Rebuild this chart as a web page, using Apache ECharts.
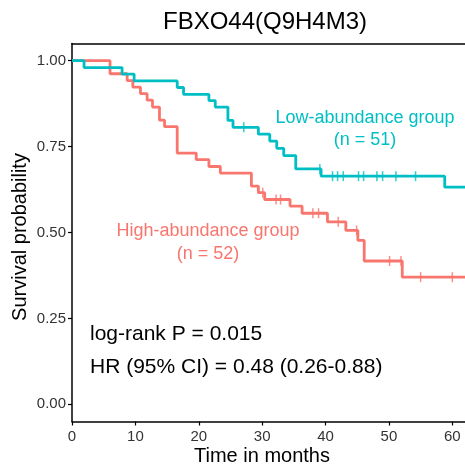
<!DOCTYPE html>
<html>
<head>
<meta charset="utf-8">
<script src="https://cdn.jsdelivr.net/npm/echarts@6/dist/echarts.min.js"></script>
<style>html,body{margin:0;padding:0;background:#fff;}#c{width:465px;height:468px;}</style>
</head>
<body>
<div id="c"></div>
<script>
const timeTicks = [0, 10, 20, 30, 40, 50, 60];
const probTicks = [0, 0.25, 0.5, 0.75, 1];

const lowTimes = [0, 1.9, 7.9, 9.8, 16.6, 17.6, 21.6, 22.6, 24.6, 25.4, 29.4, 31.2, 32.3, 33.4, 35.3, 39.3, 58.8, 64];
const lowSurv  = [1, 0.980, 0.961, 0.941, 0.922, 0.902, 0.884, 0.865, 0.826, 0.806, 0.786, 0.766, 0.745, 0.724, 0.685, 0.664, 0.632, 0.632];
const lowCensor = [27.1, 39.1, 41.1, 41.9, 42.8, 45.2, 46.0, 48.1, 49.0, 51.1, 54.2];

const highTimes = [0, 6.0, 8.7, 9.6, 10.8, 11.85, 12.7, 13.8, 14.6, 16.6, 19.6, 21.6, 23.4, 28.3, 29.4, 30.4, 34.4, 36.3, 40.3, 43.2, 45.1, 46.1, 52.1, 64];
const highSurv  = [1, 0.962, 0.942, 0.923, 0.904, 0.885, 0.865, 0.827, 0.808, 0.731, 0.712, 0.692, 0.673, 0.635, 0.616, 0.596, 0.577, 0.556, 0.531, 0.506, 0.477, 0.417, 0.370, 0.370];
const highCensor = [30.1, 32.2, 32.9, 38.0, 38.9, 42.0, 44.9, 50.1, 51.9, 55.0, 60.0];

const lowColor = '#00BFC4';
const highColor = '#F8766D';
const FONT = 'Liberation Sans, Arial, sans-serif';

function survAt(times, surv, t) {
  let s = surv[0];
  for (let i = 0; i < times.length; i++) { if (times[i] <= t) s = surv[i]; }
  return s;
}
const pairs = (a, b) => a.map((v, i) => [v, b[i]]);
const censorPts = (c, times, surv) => c.map(t => [t, survAt(times, surv, t)]);

const chart = echarts.init(document.getElementById('c'), null, {renderer: 'canvas'});
const axisLineStyle = {color: '#000', width: 1.5};
chart.setOption({
  animation: false,
  backgroundColor: '#fff',
  grid: {left: 72, top: 43.5, right: 0, bottom: 46.5, show: false, containLabel: false},
  xAxis: [{
    type: 'value', min: 0, max: 62, interval: 10,
    axisLine: {show: true, onZero: false, lineStyle: axisLineStyle},
    axisTick: {show: true, length: 4, lineStyle: {color: '#000', width: 1.2}, customValues: timeTicks},
    axisLabel: {color: '#333', fontSize: 15, fontFamily: FONT, margin: 8, customValues: timeTicks, formatter: v => String(v)},
    splitLine: {show: false}
  }, {
    type: 'value', position: 'top', min: 0, max: 62,
    axisLine: {show: true, onZero: false, lineStyle: axisLineStyle},
    axisTick: {show: false}, axisLabel: {show: false}, splitLine: {show: false}
  }],
  yAxis: {
    type: 'value', min: -0.05, max: 1.05,
    axisLine: {show: true, onZero: false, lineStyle: axisLineStyle},
    axisTick: {show: true, length: 4, lineStyle: {color: '#000', width: 1.2}, customValues: probTicks},
    axisLabel: {color: '#333', fontSize: 15, fontFamily: FONT, margin: 6, customValues: probTicks, formatter: v => v.toFixed(2)},
    splitLine: {show: false}
  },
  series: [
    {type: 'line', step: 'end', data: pairs(lowTimes, lowSurv), symbol: 'none', lineStyle: {color: lowColor, width: 2.8}, z: 3},
    {type: 'line', step: 'end', data: pairs(highTimes, highSurv), symbol: 'none', lineStyle: {color: highColor, width: 2.8}, z: 2},
    {type: 'scatter', data: censorPts(lowCensor, lowTimes, lowSurv), symbol: 'rect', symbolSize: [1.5, 10], itemStyle: {color: lowColor}, z: 4},
    {type: 'scatter', data: censorPts(highCensor, highTimes, highSurv), symbol: 'rect', symbolSize: [1.5, 10], itemStyle: {color: highColor}, z: 4}
  ],
  graphic: [
    {type: 'text', x: 265, y: 22, style: {text: 'FBXO44(Q9H4M3)', fill: '#000', font: '24px ' + FONT, textAlign: 'center', textVerticalAlign: 'middle'}},
    {type: 'text', x: 365, y: 118, style: {text: 'Low-abundance group', fill: lowColor, font: '18px ' + FONT, textAlign: 'center', textVerticalAlign: 'middle'}},
    {type: 'text', x: 365, y: 140, style: {text: '(n = 51)', fill: lowColor, font: '18px ' + FONT, textAlign: 'center', textVerticalAlign: 'middle'}},
    {type: 'text', x: 208, y: 231, style: {text: 'High-abundance group', fill: highColor, font: '18px ' + FONT, textAlign: 'center', textVerticalAlign: 'middle'}},
    {type: 'text', x: 208, y: 254, style: {text: '(n = 52)', fill: highColor, font: '18px ' + FONT, textAlign: 'center', textVerticalAlign: 'middle'}},
    {type: 'text', x: 90, y: 334, style: {text: 'log-rank P = 0.015', fill: '#000', font: '21px ' + FONT, textAlign: 'left', textVerticalAlign: 'middle'}},
    {type: 'text', x: 90, y: 367, style: {text: 'HR (95% CI) = 0.48 (0.26-0.88)', fill: '#000', font: '21px ' + FONT, textAlign: 'left', textVerticalAlign: 'middle'}},
    {type: 'text', x: 20, y: 237, rotation: Math.PI / 2, style: {text: 'Survival probability', fill: '#000', font: '20px ' + FONT, textAlign: 'center', textVerticalAlign: 'middle'}},
    {type: 'text', x: 262, y: 456, style: {text: 'Time in months', fill: '#000', font: '20px ' + FONT, textAlign: 'center', textVerticalAlign: 'middle'}}
  ]
});
</script>
</body>
</html>
